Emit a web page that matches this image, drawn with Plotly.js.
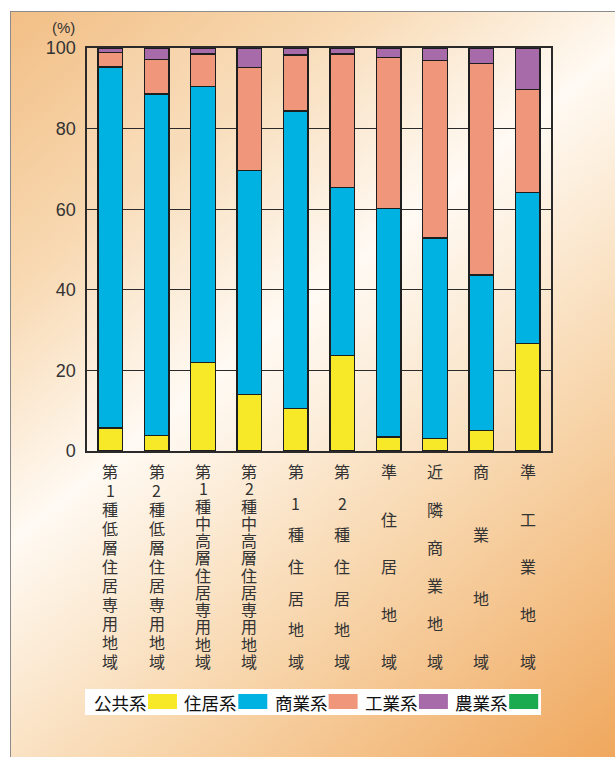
<!DOCTYPE html>
<html>
<head>
<meta charset="utf-8">
<script src="https://cdn.plot.ly/plotly-3.0.1.min.js"></script>
<style>
  html, body { margin: 0; padding: 0; background: #ffffff; }
  #wrap { position: relative; width: 615px; height: 757px; overflow: hidden; }
  #panel {
    position: absolute; left: 10px; top: 11px; width: 620px; height: 760px;
    border-left: 1.5px solid #8c8c8c; border-top: 1.5px solid #8c8c8c;
    background: linear-gradient(141deg, #f2bf86 0%, #f8d9b2 22%, #fffaf3 42%, #f8d8b0 66%, #efa457 100%);
  }
  #chart { position: absolute; left: 0; top: 0; width: 615px; height: 757px; }
</style>
</head>
<body>
<div id="wrap">
  <div id="panel"></div>
  <div id="chart"></div>
</div>
<script>
// Land-use zones (x categories)
const categories = [
  '第1種低層住居専用地域',
  '第2種低層住居専用地域',
  '第1種中高層住居専用地域',
  '第2種中高層住居専用地域',
  '第1種住居地域',
  '第2種住居地域',
  '準住居地域',
  '近隣商業地域',
  '商業地域',
  '準工業地域'
];

// Share of floor area by use (%)
const publicUse    = [5.7, 3.9, 21.9, 14.0, 10.6, 23.7, 3.5, 3.1, 5.1, 26.7];
const residential  = [89.6, 84.7, 68.5, 55.6, 73.8, 41.7, 56.7, 49.8, 38.6, 37.4];
const commercial   = [3.6, 8.6, 8.1, 25.6, 13.9, 33.1, 37.4, 44.0, 52.4, 25.6];
const industrial   = [1.1, 2.8, 1.5, 4.8, 1.7, 1.5, 2.4, 3.1, 3.9, 10.3];
const agricultural = [0, 0, 0, 0, 0, 0, 0, 0, 0, 0];

const seriesNames  = ['公共系', '住居系', '商業系', '工業系', '農業系'];
const seriesValues = [publicUse, residential, commercial, industrial, agricultural];
const seriesColors = ['#f8e928', '#00b2e1', '#f0977b', '#a66ba8', '#1aaa50'];

const yTicks = [0, 20, 40, 60, 80, 100];

const W = 615, H = 757;
const M = { l: 87, r: 64, t: 48, b: 306 };
const plotW = W - M.l - M.r;
const plotH = H - M.t - M.b;
const px2x = px => (px - M.l) / plotW;
const py2y = py => (H - M.b - py) / plotH;

const traces = seriesNames.map((name, i) => ({
  type: 'bar',
  name: name,
  x: categories,
  y: seriesValues[i],
  width: 0.53,
  marker: {
    color: seriesColors[i],
    line: { color: '#1e1e1e', width: seriesValues[i].some(v => v > 0) ? 1.4 : 0 }
  },
  hoverinfo: 'x+y+name'
}));

const annotations = [];
const shapes = [];

// Vertical category labels: one character per line, spread evenly
const labelTop = 471, labelBottom = 661;
categories.forEach(cat => {
  const chars = Array.from(cat);
  const step = (labelBottom - labelTop) / (chars.length - 1);
  chars.forEach((ch, k) => {
    annotations.push({
      x: cat, xref: 'x',
      y: py2y(labelTop + k * step), yref: 'paper',
      text: ch, showarrow: false,
      xanchor: 'center', yanchor: 'middle',
      font: { family: '"Noto Sans CJK JP", sans-serif', size: 16, color: '#333333' }
    });
  });
});

// Unit label above the value axis
annotations.push({
  x: px2x(63), xref: 'paper', y: py2y(28), yref: 'paper',
  text: '(%)', showarrow: false, xanchor: 'center', yanchor: 'middle',
  font: { family: '"Liberation Sans", Arial, sans-serif', size: 15, color: '#333333' }
});

// Legend: label followed by its colour swatch, on a white strip
shapes.push({
  type: 'rect', xref: 'paper', yref: 'paper',
  x0: px2x(85), x1: px2x(541), y0: py2y(715), y1: py2y(689),
  fillcolor: '#ffffff', line: { width: 0 }, layer: 'above'
});
const legendStart = 92, legendPitch = 90.3, textW = 54, swatchW = 29;
seriesNames.forEach((name, i) => {
  const x0 = legendStart + i * legendPitch;
  annotations.push({
    x: px2x(x0), xref: 'paper', y: py2y(702), yref: 'paper',
    text: name, showarrow: false, xanchor: 'left', yanchor: 'middle',
    font: { family: '"Noto Sans CJK JP", sans-serif', size: 17.5, color: '#111111' }
  });
  shapes.push({
    type: 'rect', xref: 'paper', yref: 'paper',
    x0: px2x(x0 + textW + 2), x1: px2x(x0 + textW + 2 + swatchW),
    y0: py2y(709), y1: py2y(694),
    fillcolor: seriesColors[i], line: { width: 0 }, layer: 'above'
  });
});

const layout = {
  width: W, height: H,
  margin: M,
  paper_bgcolor: 'rgba(0,0,0,0)',
  plot_bgcolor: 'rgba(255,255,255,0.12)',
  barmode: 'stack',
  bargap: 0.47,
  showlegend: false,
  xaxis: {
    type: 'category',
    showticklabels: false,
    ticks: '',
    showgrid: false,
    showline: true, mirror: true,
    linecolor: '#2a2a2a', linewidth: 1.6,
    zeroline: false
  },
  yaxis: {
    range: [0, 100],
    tickvals: yTicks,
    ticktext: yTicks.map(String),
    ticks: '',
    ticklabelstandoff: 6,
    tickfont: { family: '"Liberation Sans", Arial, sans-serif', size: 18, color: '#333333' },
    showgrid: true, gridcolor: '#2a2a2a', gridwidth: 1.3,
    showline: true, mirror: true,
    linecolor: '#2a2a2a', linewidth: 1.6,
    zeroline: false
  },
  annotations: annotations,
  shapes: shapes
};

Plotly.newPlot('chart', traces, layout, { displayModeBar: false, staticPlot: true });
</script>
</body>
</html>
